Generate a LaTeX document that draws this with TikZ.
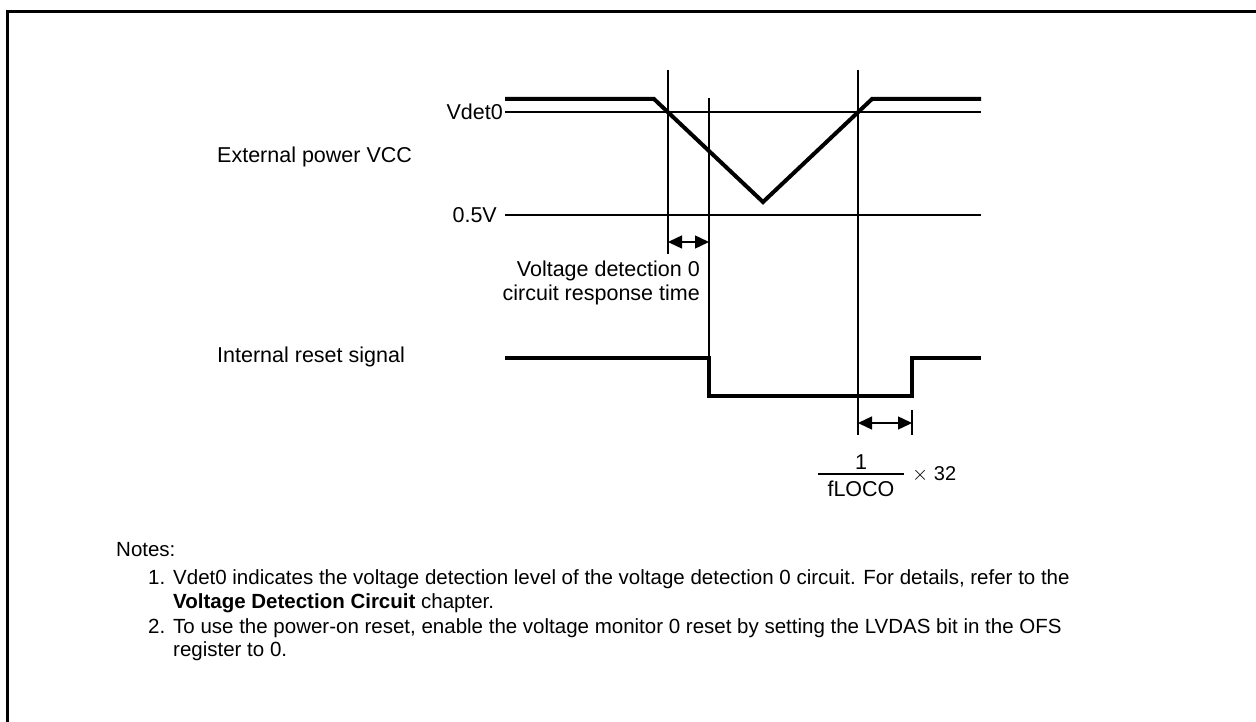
\documentclass[tikz,border=0pt]{standalone}
\usepackage{fontspec}
\setmainfont{Liberation Sans}
\usetikzlibrary{arrows.meta}
\begin{document}
\begin{tikzpicture}[x=1pt,y=-1pt,
  thin/.style={line width=1.4pt},
  sig/.style={line width=4pt},
  dim/.style={line width=1.4pt,{Triangle[length=14pt,width=13pt]}-{Triangle[length=14pt,width=13pt]}},
  lbl/.style={inner sep=0pt,font=\fontsize{21.5}{24}\selectfont},
  note/.style={inner sep=0pt,anchor=base west,font=\fontsize{20.5}{24}\selectfont}]
\useasboundingbox (0,0) rectangle (1256,722);
% frame
\draw[line width=3pt] (7.5,730) -- (7.5,12) -- (1260,12);
% reference levels
\coordinate (v0l) at (505,112); \coordinate (v0r) at (981,112);
\coordinate (hl) at (505,215); \coordinate (hr) at (981,215);
\draw[thin] (v0l) -- (v0r);
\draw[thin] (hl) -- (hr);
% VCC waveform
\coordinate (a1) at (505,99); \coordinate (a2) at (654,99);
\coordinate (a3) at (763,202); \coordinate (a4) at (872,99);
\coordinate (a5) at (981,99);
\draw[sig,line join=miter] (a1) -- (a2) -- (a3) -- (a4) -- (a5);
% reset waveform
\coordinate (r1) at (505,358); \coordinate (r2) at (709,358);
\coordinate (r3) at (709,396); \coordinate (r4) at (912,396);
\coordinate (r5) at (912,358); \coordinate (r6) at (981,358);
\draw[sig,line join=miter] (r1) -- (r2) -- (r3) -- (r4) -- (r5) -- (r6);
% vertical markers
\coordinate (m1t) at (668,70); \coordinate (m1b) at (668,254);
\coordinate (m2t) at (709,98); \coordinate (m2b) at (709,358);
\coordinate (m3t) at (858,70); \coordinate (m3b) at (858,435);
\coordinate (m4t) at (912,410); \coordinate (m4b) at (912,435);
\draw[thin] (m1t) -- (m1b);
\draw[thin] (m2t) -- (m2b);
\draw[thin] (m3t) -- (m3b);
\draw[thin] (m4t) -- (m4b);
% dimension arrows
\coordinate (d1l) at (668,242); \coordinate (d1r) at (709,242);
\draw[dim] (d1l) -- (d1r);
\coordinate (d2l) at (858,423); \coordinate (d2r) at (912,423);
\draw[dim] (d2l) -- (d2r);
% labels
\node[lbl,anchor=east] (lv) at (503,112) {Vdet0};
\node[lbl,anchor=east] (lh) at (497,215) {0.5V};
\node[lbl,anchor=west] (lvcc) at (217,157) {External power VCC};
\node[lbl,anchor=west] (lrst) at (217,357) {Internal reset signal};
\node[lbl,anchor=east,align=right] (lresp) at (700,283) {Voltage detection 0\\circuit response time};
% fraction
\node[lbl] (num) at (861,462) {1};
\coordinate (fbl) at (818,474); \coordinate (fbr) at (904,474);
\draw[thin] (fbl) -- (fbr);
\node[lbl] (den) at (861,489) {fLOCO};
\node[lbl,anchor=west,font=\fontsize{20}{22}\selectfont] (times) at (912,474) {$\times$ 32};
% notes
\node[note] (n0) at (116,556) {Notes:};
\node[note] (n1n) at (148,584) {1.};
\node[note] (n1) at (173,584) {Vdet0 indicates the voltage detection level of the voltage detection 0 circuit. For details, refer to the};
\node[note] (n1b) at (173,608) {\textbf{Voltage Detection Circuit} chapter.};
\node[note] (n2n) at (148,633) {2.};
\node[note] (n2) at (173,633) {To use the power-on reset, enable the voltage monitor 0 reset by setting the LVDAS bit in the OFS};
\node[note] (n2b) at (173,656) {register to 0.};
\end{tikzpicture}
\end{document}
